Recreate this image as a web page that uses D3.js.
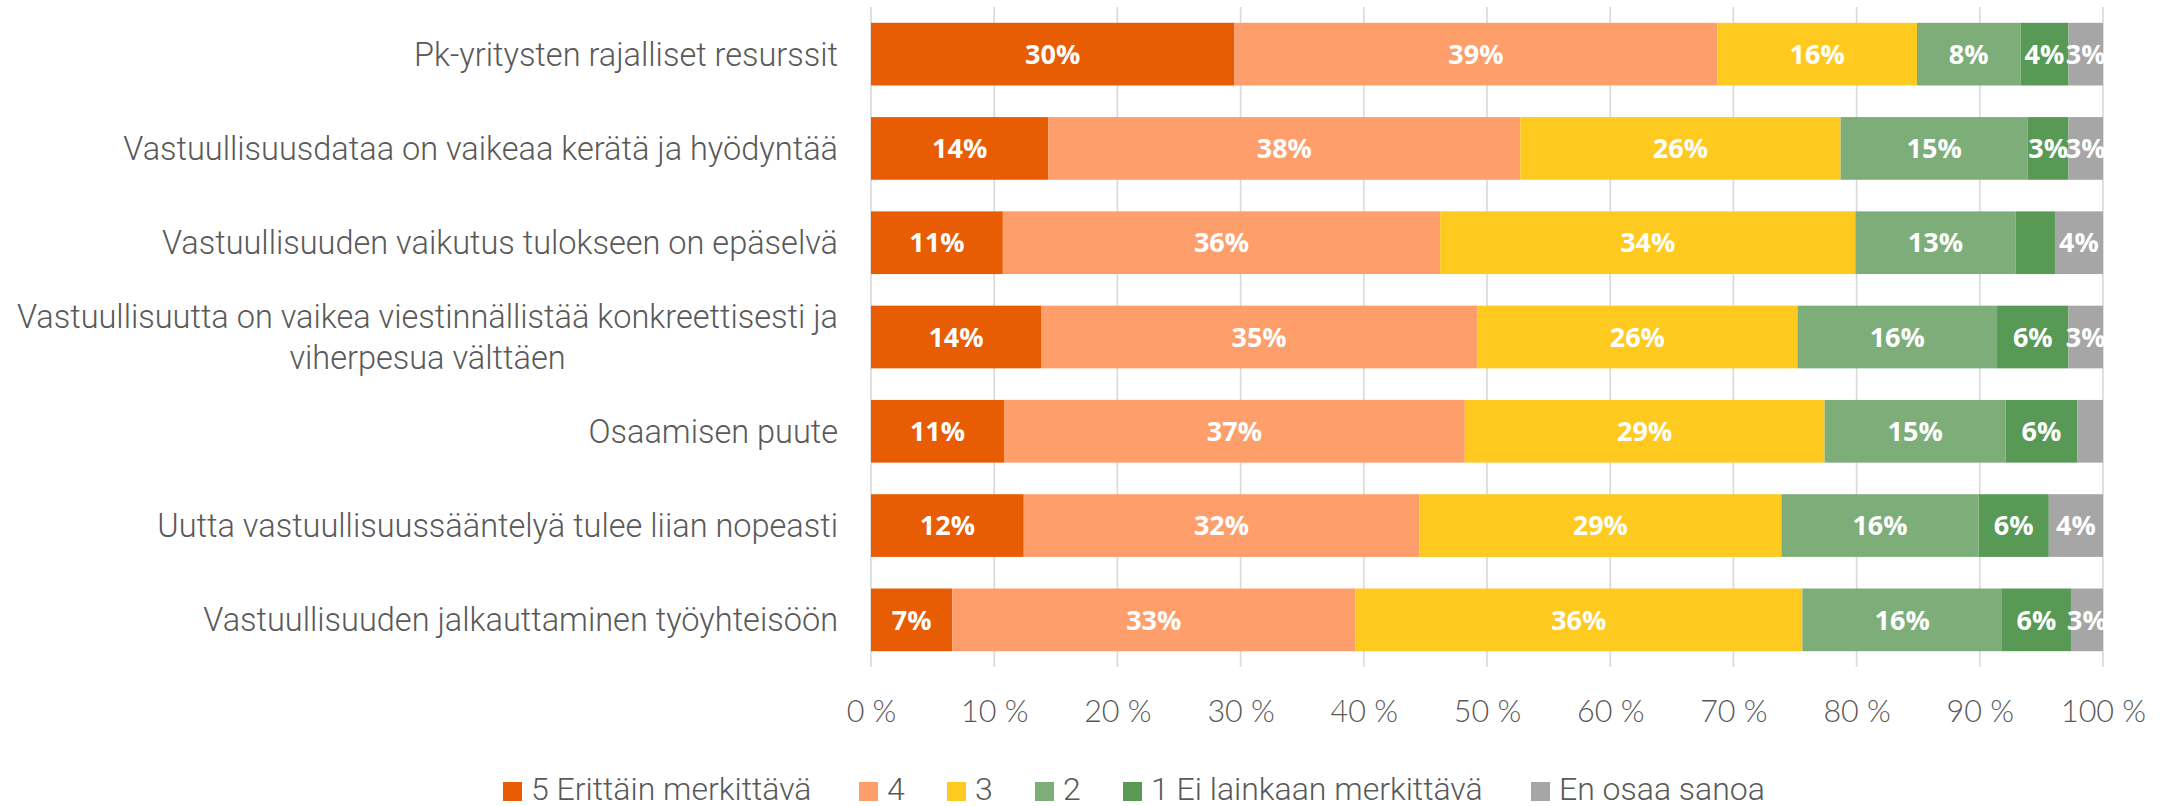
<!DOCTYPE html>
<html>
<head>
<meta charset="utf-8">
<script src="https://cdn.jsdelivr.net/npm/d3@7"></script>
<style>
  html, body { margin: 0; padding: 0; background: #ffffff; }
  svg { display: block; }
</style>
</head>
<body>
<svg id="chart" width="2167" height="806"></svg>
<script>
// ---- data ----
const categories = [
  "Pk-yritysten rajalliset resurssit",
  "Vastuullisuusdataa on vaikeaa kerätä ja hyödyntää",
  "Vastuullisuuden vaikutus tulokseen on epäselvä",
  "Vastuullisuutta on vaikea viestinnällistää konkreettisesti ja\nviherpesua välttäen",
  "Osaamisen puute",
  "Uutta vastuullisuussääntelyä tulee liian nopeasti",
  "Vastuullisuuden jalkauttaminen työyhteisöön"
];
const seriesNames = ["5 Erittäin merkittävä", "4", "3", "2", "1 Ei lainkaan merkittävä", "En osaa sanoa"];
const seriesColors = ["#E85C04", "#FE9E6B", "#FFCA20", "#7DAE7A", "#589A55", "#A6A6A6"];
const s5 = [29.5, 14.4, 10.7, 13.8, 10.8, 12.4, 6.6];
const s4 = [39.2, 38.3, 35.5, 35.4, 37.4, 32.1, 32.7];
const s3 = [16.2, 26.0, 33.7, 26.0, 29.2, 29.4, 36.3];
const s2 = [8.4, 15.2, 13.0, 16.2, 14.7, 16.0, 16.2];
const s1 = [3.9, 3.3, 3.2, 5.8, 5.8, 5.7, 5.6];
const sEOS = [2.8, 2.8, 3.9, 2.8, 2.1, 4.4, 2.6];
// labels not shown in the original: [rowIndex, seriesIndex]
const hiddenLabels = [[2, 4], [4, 5]];
const tickValues = [0, 10, 20, 30, 40, 50, 60, 70, 80, 90, 100];

// ---- layout (not data) ----
const legendX = [503, 859, 947, 1035, 1123, 1531];

// ---- build ----
const seriesValues = [s5, s4, s3, s2, s1, sEOS];
const rows = categories.map((c, i) => {
  const r = { cat: c };
  seriesNames.forEach((s, j) => r[s] = seriesValues[j][i]);
  return r;
});
const stack = d3.stack().keys(seriesNames)(rows);

const svg = d3.select("#chart");
const x = d3.scaleLinear().domain([0, 100]).range([871, 2103]);
const y = d3.scaleBand().domain(categories).range([7, 667]).paddingInner(0.335).paddingOuter(0.1675);

// gridlines
svg.append("g").selectAll("line").data(tickValues).join("line")
  .attr("x1", d => x(d)).attr("x2", d => x(d))
  .attr("y1", 7).attr("y2", 667)
  .attr("stroke", "#D9D9D9").attr("stroke-width", 1.6);

// bars
const gBars = svg.append("g");
stack.forEach((layer, j) => {
  gBars.append("g").attr("fill", seriesColors[j])
    .selectAll("rect").data(layer).join("rect")
    .attr("x", d => x(d[0]))
    .attr("y", d => y(d.data.cat))
    .attr("width", d => x(d[1]) - x(d[0]))
    .attr("height", y.bandwidth());
});

// data labels
const gLab = svg.append("g")
  .attr("font-family", "'Open Sans', 'Noto Sans', sans-serif")
  .attr("font-weight", 700).attr("font-size", 27).attr("fill", "#ffffff")
  .attr("text-anchor", "middle");
stack.forEach((layer, j) => {
  layer.forEach((d, i) => {
    if (hiddenLabels.some(h => h[0] === i && h[1] === j)) return;
    gLab.append("text")
      .attr("x", (x(d[0]) + x(d[1])) / 2)
      .attr("y", y(d.data.cat) + y.bandwidth() / 2)
      .attr("dy", "0.36em")
      .text(Math.round(d[1] - d[0]) + "%");
  });
});

// category labels
const gCat = svg.append("g")
  .attr("font-family", "Roboto, 'Noto Sans', sans-serif")
  .attr("font-weight", 300).attr("font-size", 32.5).attr("fill", "#595959");
categories.forEach(c => {
  const lines = c.split("\n");
  const cy = y(c) + y.bandwidth() / 2;
  const lh = 41;
  const t = gCat.append("text").attr("text-anchor", "end");
  const first = t.append("tspan").attr("x", 838)
    .attr("y", cy - (lines.length - 1) * lh / 2).attr("dy", "0.35em").text(lines[0]);
  if (lines.length > 1) {
    const w = first.node().getComputedTextLength();
    lines.slice(1).forEach((ln, k) => {
      gCat.append("text").attr("text-anchor", "middle")
        .attr("x", 838 - w / 2)
        .attr("y", cy - (lines.length - 1) * lh / 2 + (k + 1) * lh)
        .attr("dy", "0.35em").text(ln);
    });
  }
});

// x axis
const axis = d3.axisBottom(x).tickValues(tickValues).tickSize(0).tickPadding(0)
  .tickFormat(d => d + " %");
const gAx = svg.append("g").attr("transform", "translate(0,711)").call(axis);
gAx.select(".domain").remove();
gAx.selectAll("text")
  .attr("font-family", "Lato, 'Noto Sans', sans-serif")
  .attr("font-weight", 300)
  .attr("font-size", 30.5).attr("fill", "#595959")
  .attr("y", 0).attr("dy", "0.35em");

// legend
const gLeg = svg.append("g")
  .attr("font-family", "Roboto, 'Noto Sans', sans-serif")
  .attr("font-weight", 300).attr("font-size", 32).attr("fill", "#595959");
seriesNames.forEach((s, j) => {
  gLeg.append("rect").attr("x", legendX[j]).attr("y", 782).attr("width", 19).attr("height", 19)
    .attr("fill", seriesColors[j]);
  gLeg.append("text").attr("x", legendX[j] + 28).attr("y", 799.5).text(s);
});
</script>
</body>
</html>
